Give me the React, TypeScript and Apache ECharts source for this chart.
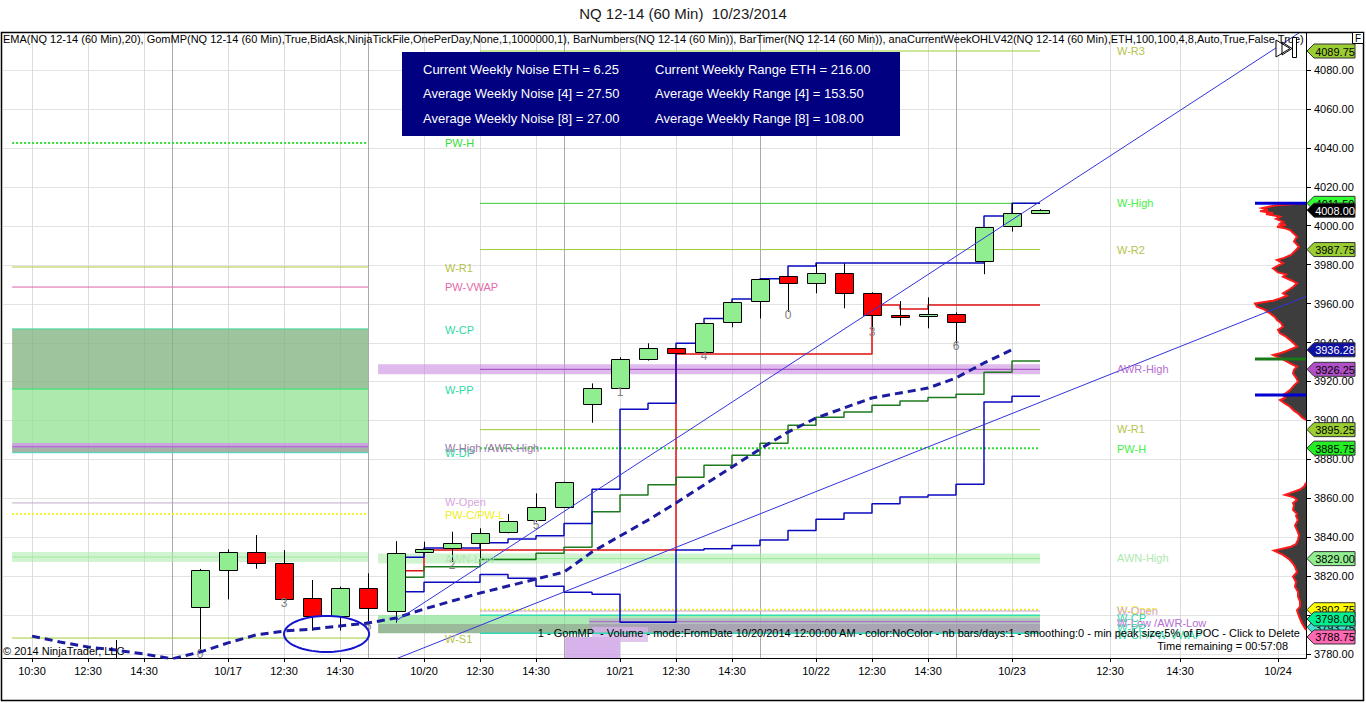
import React, { useEffect, useRef } from "react";
import * as echarts from "echarts";

const FONT = "'Liberation Sans', Arial, Helvetica, sans-serif";

// ---------------- axes ----------------
const xTickSlots = [-6, -4, -2, 1, 3, 5, 8, 10, 12, 15, 17, 19, 22, 24, 26, 29, 32.5, 35, 38.5];
const xTickLabels = ["10:30", "12:30", "14:30", "10/17", "12:30", "14:30", "10/20", "12:30", "14:30", "10/21", "12:30", "14:30", "10/22", "12:30", "14:30", "10/23", "12:30", "14:30", "10/24"];
const sessionBreakSlots = [-1, 6, 13, 20, 27];
const priceTicks = [3780, 3800, 3820, 3840, 3860, 3880, 3900, 3920, 3940, 3960, 3980, 4000, 4020, 4040, 4060, 4080];

// ---------------- 60 min bars (slot index = bar position) ----------------
const barSlots = [-6, -5, -4, -3, -2, -1, 0, 1, 2, 3, 4, 5, 6, 7, 8, 9, 10, 11, 12, 13, 14, 15, 16, 17, 18, 19, 20, 21, 22, 23, 24, 25, 26, 27, 28, 29, 30];
const barOpen = [3774, 3770, 3766, 3768, 3771, 3767, 3804.0, 3823.0, 3832.4, 3826.6, 3808.6, 3799.7, 3813.7, 3802.2, 3832.3, 3834.3, 3836.9, 3842.9, 3848.8, 3855.3, 3908.4, 3916.4, 3931.4, 3937.0, 3935.0, 3950.3, 3961.2, 3974.0, 3970.4, 3975.5, 3965.3, 3954.0, 3953.4, 3954.5, 3981.9, 3999.9, 4006.3];
const barClose = [3770, 3766, 3768, 3771, 3767, 3765, 3823.2, 3832.4, 3826.6, 3808.1, 3799.7, 3813.7, 3803.5, 3831.7, 3833.8, 3836.9, 3842.3, 3848.5, 3855.3, 3868.2, 3916.4, 3931.4, 3937.0, 3934.5, 3949.9, 3960.8, 3972.6, 3970.4, 3975.5, 3965.3, 3954.0, 3953.0, 3954.5, 3950.4, 3999.2, 4006.4, 4008.0];
const barLow = [3765, 3760, 3762, 3764, 3760, 3755, 3781.5, 3808.1, 3823.8, 3807.8, 3792.0, 3792.0, 3795.8, 3796.1, 3831.5, 3827.3, 3829.1, 3842.0, 3847.8, 3855.0, 3898.8, 3916.2, 3930.7, 3934.2, 3934.8, 3947.8, 3952.4, 3955.8, 3965.3, 3957.6, 3947.1, 3948.7, 3947.3, 3939.6, 3975.1, 3997.0, 4006.0];
const barHigh = [3776.5, 3775, 3774, 3787.2, 3775, 3772, 3823.7, 3833.8, 3841.1, 3833.4, 3818.0, 3814.6, 3821.4, 3838.0, 3837.7, 3842.8, 3844.6, 3851.9, 3862.5, 3868.5, 3919.0, 3932.4, 3939.6, 3937.3, 3950.2, 3961.0, 3972.8, 3974.2, 3980.7, 3980.7, 3965.8, 3961.3, 3963.2, 3955.5, 3999.3, 4011.5, 4008.5];

// ---------------- EMA(20) ----------------
const emaSlots = [-6, -5, -4, -3, -2, -1, 0, 1, 2, 3, 4, 5, 6, 7, 8, 9, 10, 11, 12, 13, 14, 15, 16, 17, 18, 19, 20, 21, 22, 23, 24, 25, 26, 27, 28, 29];
const emaValues = [3789.2, 3786.2, 3783.6, 3782.0, 3780.0, 3777.5, 3781.0, 3785.7, 3789.8, 3791.8, 3792.8, 3794.4, 3795.9, 3798.5, 3803.1, 3807.2, 3811.3, 3814.9, 3818.5, 3822.1, 3832.4, 3840.6, 3848.8, 3857.6, 3866.8, 3876.1, 3885.3, 3894.0, 3901.2, 3906.4, 3911.5, 3914.1, 3916.6, 3921.8, 3929.5, 3936.28];

// ---------------- weekly step plots (slots 7..30) ----------------
const stepSlots = [7, 8, 9, 10, 11, 12, 13, 14, 15, 16, 17, 18, 19, 20, 21, 22, 23, 24, 25, 26, 27, 28, 29, 30];
const stepUpperBlue = [3829.7, 3834.5, 3834.5, 3837.2, 3839.1, 3840.8, 3847.1, 3864.6, 3905.7, 3908.8, 3939.6, 3952.4, 3962.4, 3972.8, 3979.3, 3980.9, 3980.9, 3980.9, 3980.9, 3980.9, 3980.9, 4005.0, 4011.5, 4011.5];
const stepGreen = [3819.4, 3824.8, 3824.8, 3828.6, 3828.6, 3831.7, 3834.8, 3853.1, 3861.7, 3867.0, 3870.8, 3876.9, 3882.1, 3888.2, 3897.5, 3901.6, 3904.3, 3907.8, 3910.0, 3911.7, 3913.4, 3924.7, 3930.5, 3930.5];
const stepLowerBlue = [3812.0, 3816.8, 3816.8, 3820.9, 3818.9, 3814.8, 3811.7, 3810.7, 3796.3, 3796.3, 3833.4, 3834.1, 3835.8, 3838.6, 3843.5, 3849.2, 3852.4, 3857.2, 3860.7, 3861.7, 3867.2, 3909.4, 3912.4, 3912.4];
const stepRed = [3822.8, 3833.4, 3833.4, 3833.4, 3833.4, 3833.4, 3833.4, 3833.4, 3833.4, 3833.4, 3934.1, 3934.1, 3934.1, 3934.1, 3934.1, 3934.1, 3934.1, 3959.3, 3957.2, 3959.3, 3959.3, 3959.3, 3959.3, 3959.3];

// ---------------- bar numbers ----------------
const barNumberSlots = [0, 3, 6, 9, 12, 15, 18, 21, 24, 27];
const barNumberTexts = ["0", "3", "6", "2", "5", "1", "4", "0", "3", "6"];

// ---------------- drawn trend lines & ellipse ----------------
const trendLineUpper = [[7, 3797.0], [39.3, 4099.5]];
const trendLineLower = [[7, 3777.5], [39.5, 3963.7]];
const ellipseNote = [4.52, 3790.3, 1.52, 9.25]; // center slot, center price, radius slots, radius price

// ---------------- weekly levels ----------------
const priorWeekLevelNames = ["PW-H", "W-R1", "PW-VWAP", "W-Open", "PW-C/PW-L", "W-S1", "AWN-Low"];
const priorWeekLevelPrices = [4042.5, 3978.8, 3968.5, 3857.6, 3851.9, 3788.2, 3829.8];
const currentWeekLevelNames = ["W-R3", "W-High", "W-R2", "AWR-High", "W-R1", "PW-H", "AWN-High", "PW-C/PW-L", "W-Open", "W-CP", "W-PP"];
const currentWeekLevelPrices = [4089.75, 4011.5, 3987.75, 3926.25, 3895.25, 3885.75, 3829.0, 3802.75, 3802.1, 3799.9, 3790.6];

// zones: [fromSlot, toSlot, topPrice, bottomPrice]
const zoneRects = [
  [-6.71, 6.0, 3947.0, 3916.1],
  [-6.71, 6.0, 3916.1, 3888.4],
  [-6.71, 6.0, 3888.4, 3886.1],
  [-6.71, 6.0, 3886.1, 3883.4],
  [-6.71, 6.0, 3832.4, 3827.3],
  [6.36, 30, 3928.8, 3923.7],
  [6.36, 30, 3831.6, 3826.5],
  [6.36, 30, 3800.0, 3795.4],
  [6.36, 30, 3795.4, 3790.6],
  [13.9, 30, 3798.4, 3790.6],
  [13.04, 15, 3788.7, 3777.0],
  [14, 16, 3793.9, 3786.2],
];

// level labels
const midLabelTexts = ["PW-H", "W-R1", "PW-VWAP", "W-CP", "W-PP", "W-DP", "W-High /AWR-High", "W-Open", "PW-C/PW-L", "AWN-Low", "W-S1"];
const midLabelPrices = [4042.3, 3978.3, 3968.6, 3946.5, 3915.6, 3883.0, 3885.6, 3858.1, 3851.4, 3829.0, 3787.7];
const rightLabelTexts = ["W-R3", "W-High", "W-R2", "AWR-High", "W-R1", "PW-H", "AWN-High", "W-Open", "W-Open", "W-CP", "W-Low /AWR-Low", "W-PP", "W-CP/PW-VWAP"];
const rightLabelPrices = [4089.5, 4011.5, 3987.5, 3926.5, 3895.5, 3885.3, 3829.3, 3802.8, 3802.3, 3798.4, 3795.8, 3793.3, 3790.0];

// price tags on the axis
const tagPrices = [4089.75, 3987.75, 4011.5, 4008.0, 3936.28, 3926.25, 3895.25, 3885.75, 3829.0, 3802.75, 3793.75, 3798.0, 3788.75];

// volume profile (GomMP) : price levels and volume
const profileUpperPrices = [4011.5, 4010.5, 4009, 4008, 4007.5, 4006.5, 4006, 4004.6, 4003.5, 4002.1, 4001, 4000.5, 3999.5, 3998.5, 3997.8, 3994.4, 3992, 3989.2, 3987, 3985, 3983.5, 3982.4, 3980.7, 3979.5, 3978.1, 3976, 3975, 3973.8, 3972, 3970.4, 3968.5, 3967.5, 3965.3, 3964, 3962.7, 3961.5, 3961, 3960, 3958.4, 3957, 3955, 3953, 3951.6, 3950, 3948.1, 3946.5, 3944.7, 3943, 3941.3, 3939.5, 3937.9, 3935.5, 3934.5, 3933.6, 3932.5, 3931.4, 3929, 3927.6, 3926, 3924.2, 3922, 3919.9, 3918, 3915.6, 3914, 3913, 3911.5, 3910.5, 3909, 3907, 3905, 3903.6, 3901.5, 3900.2];
const profileUpperVolumes = [0, 300, 440, 380, 460, 330, 400, 260, 300, 230, 260, 200, 290, 200, 160, 90, 120, 70, 110, 150, 220, 290, 230, 280, 330, 280, 200, 230, 150, 90, 130, 160, 230, 190, 260, 330, 400, 510, 490, 420, 360, 310, 290, 250, 230, 280, 260, 200, 160, 120, 90, 200, 260, 330, 280, 230, 150, 90, 120, 130, 100, 80, 120, 160, 200, 230, 210, 260, 220, 160, 120, 80, 40, 0];
const profileLowerPrices = [3868, 3866, 3864.5, 3863, 3861.7, 3860.5, 3859.1, 3857.5, 3856.5, 3854, 3852, 3851, 3848.8, 3846, 3843.7, 3841, 3838.6, 3836.5, 3835.1, 3833.1, 3830.9, 3829.5, 3828.3, 3826.5, 3824.9, 3822, 3819.7, 3817, 3814.6, 3812, 3809.4, 3807, 3804.3, 3802.5, 3800.9, 3798, 3795.8, 3792.3];
const profileLowerVolumes = [0, 20, 60, 140, 210, 120, 90, 130, 120, 130, 90, 100, 80, 110, 90, 70, 80, 100, 150, 320, 230, 190, 160, 130, 110, 90, 130, 100, 110, 80, 80, 60, 60, 90, 80, 60, 40, 0];
const valueAreaPrices = [4011.5, 3931.5, 3913.0];
const valueAreaVolume = 510;

// info panel
const noiseRows = ["Current Weekly Noise ETH = 6.25", "Average Weekly Noise [4] = 27.50", "Average Weekly Noise [8] = 27.00"];
const rangeRows = ["Current Weekly Range ETH = 216.00", "Average Weekly Range [4] = 153.50", "Average Weekly Range [8] = 108.00"];

// ---------------- layout constants ----------------
const X_MIN = -7.036;
const X_MAX = 39.5;
const Y_MIN = 3777.95;
const Y_MAX = 4099.0;
const VOL_MAX = 13030;

const OLIVE = "#b4c34c";
const GREEN = "#33dd33";
const TEAL = "#2fd9a6";
const LAV = "#d9a6dc";
const YEL = "#eeee22";
const LGREEN = "#aee9ae";
const PURPLE = "#b56fd0";

const priorLevelStyles: any = {
  "PW-H": { color: "#33dd33", width: 2, type: [2, 2] },
  "W-R1": { color: "#b8c440", width: 1, type: "solid" },
  "PW-VWAP": { color: "#e060a8", width: 1, type: "solid" },
  "W-Open": { color: "#c0a8c8", width: 1, type: "solid" },
  "PW-C/PW-L": { color: "#f2f22a", width: 2, type: [2, 2] },
  "W-S1": { color: "#9acd32", width: 1, type: "solid" },
  "AWN-Low": { color: "#9ee89e", width: 1, type: "solid" },
};
const currentLevelStyles: any = {
  "W-R3": { color: "#9acd32", width: 1, type: "solid" },
  "W-High": { color: "#32cd32", width: 1, type: "solid" },
  "W-R2": { color: "#9acd32", width: 1, type: "solid" },
  "AWR-High": { color: "#a040c0", width: 1, type: "solid" },
  "W-R1": { color: "#9acd32", width: 1, type: "solid" },
  "PW-H": { color: "#33dd33", width: 2, type: [2, 2] },
  "AWN-High": { color: "#90ee90", width: 1, type: "solid" },
  "PW-C/PW-L": { color: "#f0f020", width: 2, type: [2, 2] },
  "W-Open": { color: "#d0a0d8", width: 1, type: "solid" },
  "W-CP": { color: "#30e0b0", width: 1.5, type: "solid" },
  "W-PP": { color: "#30d8b8", width: 1.5, type: "solid" },
};
const zoneColors = [
  "rgba(130,180,130,0.78)",
  "rgba(150,225,150,0.78)",
  "rgba(190,150,215,0.85)",
  "rgba(150,165,150,0.85)",
  "rgba(170,235,170,0.55)",
  "rgba(200,140,225,0.6)",
  "rgba(170,235,170,0.55)",
  "rgba(150,230,160,0.8)",
  "rgba(135,175,135,0.85)",
  "rgba(190,140,210,0.45)",
  "rgba(205,160,230,0.8)",
  "rgba(215,180,232,0.75)",
];
const midLabelColors = [GREEN, OLIVE, "#e46aa8", TEAL, TEAL, TEAL, "#9a78a8", LAV, YEL, LGREEN, OLIVE];
const rightLabelColors = [OLIVE, "#44ee44", OLIVE, PURPLE, OLIVE, "#44ee44", LGREEN, YEL, LAV, TEAL, PURPLE, TEAL, TEAL];
const tagFills = ["#9acd32", "#9acd32", "#32ff32", "#000000", "#1010a0", "#b050c8", "#9acd32", "#22ee22", "#90ee90", "#ffff00", "#40e0d0", "#00f090", "#ff69b4"];
const tagTextColors = ["#000", "#000", "#000", "#fff", "#fff", "#000", "#000", "#000", "#000", "#000", "#000", "#000", "#000"];
const valueAreaColors = ["#0000d0", "#1a7a1a", "#0000d0"];

function txt(text: string, fill: string, size: number, align = "left", vAlign = "middle") {
  return {
    text,
    fill,
    font: `${size}px ${FONT}`,
    align,
    verticalAlign: vAlign,
    textAlign: align,
    textVerticalAlign: vAlign,
  };
}

function segment(x1: number, x2: number, price: number, st: any, z: number) {
  return {
    type: "line",
    silent: true,
    z,
    symbol: "none",
    showSymbol: false,
    data: [[x1, price], [x2, price]],
    lineStyle: { color: st.color, width: st.width, type: st.type, cap: "butt" },
  };
}

function labelSeries(slot: number, texts: string[], prices: number[], colors: string[], z: number) {
  return {
    type: "custom",
    silent: true,
    clip: false,
    z,
    data: prices.map((p) => [slot, p]),
    renderItem: (params: any, api: any) => {
      const i = params.dataIndex;
      const pt = api.coord([api.value(0), api.value(1)]);
      return { type: "text", x: pt[0], y: pt[1], style: txt(texts[i], colors[i], 11) };
    },
  };
}

function stepSeries(values: number[], color: string, z: number) {
  return {
    type: "line",
    silent: true,
    z,
    step: "end",
    symbol: "none",
    showSymbol: false,
    data: stepSlots.map((s, i) => [s, values[i]]),
    lineStyle: { color, width: 1.5 },
  };
}

function buildOption(): any {
  const series: any[] = [];

  // horizontal grid lines
  series.push({
    type: "custom",
    silent: true,
    z: 0,
    data: priceTicks.map((p) => [X_MIN, p]),
    renderItem: (params: any, api: any) => {
      const cs = params.coordSys;
      const y = Math.round(api.coord([X_MIN, api.value(1)])[1]) + 0.5;
      return { type: "line", shape: { x1: cs.x, y1: y, x2: cs.x + cs.width, y2: y }, style: { stroke: "#e3e3e3", lineWidth: 1 } };
    },
  });
  // vertical grid lines (label slots light, session breaks dark)
  const vSlots = xTickSlots.concat(sessionBreakSlots);
  series.push({
    type: "custom",
    silent: true,
    z: 0,
    data: vSlots.map((s) => [s, Y_MIN]),
    renderItem: (params: any, api: any) => {
      const cs = params.coordSys;
      const x = Math.round(api.coord([api.value(0), Y_MIN])[0]) + 0.5;
      const dark = params.dataIndex >= xTickSlots.length;
      return { type: "line", shape: { x1: x, y1: cs.y, x2: x, y2: cs.y + cs.height }, style: { stroke: dark ? "#aaaaaa" : "#dcdcdc", lineWidth: 1 } };
    },
  });

  // zones
  series.push({
    type: "custom",
    silent: true,
    clip: true,
    z: 1,
    data: zoneRects,
    renderItem: (params: any, api: any) => {
      const a = api.coord([api.value(0), api.value(2)]);
      const b = api.coord([api.value(1), api.value(3)]);
      return { type: "rect", shape: { x: a[0], y: a[1], width: b[0] - a[0], height: b[1] - a[1] }, style: { fill: zoneColors[params.dataIndex] } };
    },
  });

  // zone edge lines (prior week)
  series.push(segment(-6.71, 6.0, 3947.0, { color: "#40d8a0", width: 1, type: "solid" }, 2));
  series.push(segment(-6.71, 6.0, 3916.1, { color: "#30e070", width: 1, type: "solid" }, 2));
  series.push(segment(-6.71, 6.0, 3886.4, { color: "#a050c0", width: 1, type: "solid" }, 2));
  series.push(segment(-6.71, 6.0, 3883.4, { color: "#40d8c0", width: 1, type: "solid" }, 2));
  series.push(segment(13.9, 30, 3796.6, { color: "#a060c0", width: 1, type: "solid" }, 2));
  series.push(segment(14, 14.01, 3777.0, { color: "#b080c8", width: 1, type: "solid" }, 2));

  // prior week levels
  priorWeekLevelNames.forEach((n, i) => series.push(segment(-6.71, 6.0, priorWeekLevelPrices[i], priorLevelStyles[n], 2)));
  // current week levels
  currentWeekLevelNames.forEach((n, i) => series.push(segment(10, 30, currentWeekLevelPrices[i], currentLevelStyles[n], 2)));

  // profile (GomMP) on right edge
  series.push({
    type: "custom",
    silent: true,
    clip: false,
    xAxisIndex: 1,
    z: 3,
    data: [[0, 3900]],
    renderItem: (params: any, api: any) => {
      if (params.dataIndex !== 0) return null;
      const children: any[] = [];
      const parts: any[] = [
        [profileUpperPrices, profileUpperVolumes],
        [profileLowerPrices, profileLowerVolumes],
      ];
      parts.forEach(([ps, vs]) => {
        const edge = ps.map((p: number, i: number) => api.coord([vs[i], p]));
        const base = [api.coord([0, ps[ps.length - 1]]), api.coord([0, ps[0]])];
        children.push({ type: "polygon", shape: { points: edge.concat(base) }, style: { fill: "#3d3d3d" } });
        children.push({ type: "polyline", shape: { points: edge }, style: { stroke: "#ff1a1a", lineWidth: 2, fill: null } });
      });
      valueAreaPrices.forEach((p, i) => {
        const a = api.coord([0, p]);
        const b = api.coord([valueAreaVolume, p]);
        children.push({ type: "line", shape: { x1: b[0], y1: a[1], x2: a[0], y2: a[1] }, style: { stroke: valueAreaColors[i], lineWidth: 3 } });
      });
      return { type: "group", children };
    },
  });

  // step lines
  series.push(stepSeries(stepRed, "#e01010", 4));
  series.push(stepSeries(stepLowerBlue, "#0a0ac0", 4));
  series.push(stepSeries(stepGreen, "#1e7a1e", 4));
  series.push(stepSeries(stepUpperBlue, "#0a0ac0", 4));

  // candles
  series.push({
    type: "custom",
    silent: true,
    clip: true,
    z: 5,
    data: barSlots.map((s, i) => [s, barOpen[i], barClose[i], barLow[i], barHigh[i]]),
    renderItem: (params: any, api: any) => {
      const s = api.value(0);
      const o = api.value(1);
      const c = api.value(2);
      const pO = api.coord([s, o]);
      const pC = api.coord([s, c]);
      const pL = api.coord([s, api.value(3)]);
      const pH = api.coord([s, api.value(4)]);
      const w = Math.round(api.size([1, 0])[0] * 0.64);
      const x = Math.round(pO[0]) + 0.5;
      const top = Math.round(Math.min(pO[1], pC[1])) + 0.5;
      const bot = Math.round(Math.max(pO[1], pC[1])) + 0.5;
      const up = c >= o;
      return {
        type: "group",
        children: [
          { type: "line", shape: { x1: x, y1: pH[1], x2: x, y2: pL[1] }, style: { stroke: "#000", lineWidth: 1 } },
          { type: "rect", shape: { x: x - w / 2, y: top, width: w, height: Math.max(bot - top, 2) }, style: { fill: up ? "#90ee90" : "#ff0000", stroke: "#000", lineWidth: 1 } },
        ],
      };
    },
  });

  // bar numbers
  series.push({
    type: "custom",
    silent: true,
    clip: false,
    z: 5,
    data: barNumberSlots.map((s) => [s, barLow[barSlots.indexOf(s)]]),
    renderItem: (params: any, api: any) => {
      const pt = api.coord([api.value(0), api.value(1)]);
      return { type: "text", x: pt[0], y: pt[1] + 3, style: txt(barNumberTexts[params.dataIndex], "#808080", 12, "center", "middle") };
    },
  });

  // EMA
  series.push({
    type: "line",
    silent: true,
    z: 6,
    symbol: "none",
    showSymbol: false,
    data: emaSlots.map((s, i) => [s, emaValues[i]]),
    lineStyle: { color: "#1c1ca0", width: 3, type: [8, 5] },
  });

  // trend lines
  [trendLineUpper, trendLineLower].forEach((tl) =>
    series.push({
      type: "line",
      silent: true,
      z: 7,
      symbol: "none",
      showSymbol: false,
      data: tl,
      lineStyle: { color: "#3333dd", width: 1 },
    })
  );

  // ellipse annotation
  series.push({
    type: "custom",
    silent: true,
    clip: true,
    z: 7,
    data: [ellipseNote],
    renderItem: (params: any, api: any) => {
      const pts: number[][] = [];
      for (let k = 0; k < 72; k++) {
        const t = (k / 72) * Math.PI * 2;
        pts.push(api.coord([api.value(0) + api.value(2) * Math.cos(t), api.value(1) + api.value(3) * Math.sin(t)]));
      }
      return { type: "polygon", shape: { points: pts }, style: { fill: null, stroke: "#1515d0", lineWidth: 2 } };
    },
  });

  // labels
  series.push(labelSeries(8.75, midLabelTexts, midLabelPrices, midLabelColors, 8));
  series.push(labelSeries(32.75, rightLabelTexts, rightLabelPrices, rightLabelColors, 8));

  // axis price tags
  series.push({
    type: "custom",
    silent: true,
    clip: false,
    z: 20,
    data: tagPrices.map((p) => [X_MAX, p]),
    renderItem: (params: any, api: any) => {
      const i = params.dataIndex;
      const pt = api.coord([X_MAX, api.value(1)]);
      const x0 = pt[0] + 1;
      const y = pt[1];
      return {
        type: "group",
        children: [
          {
            type: "polygon",
            shape: { points: [[x0, y], [x0 + 7, y - 7], [x0 + 48, y - 7], [x0 + 48, y + 7], [x0 + 7, y + 7]] },
            style: { fill: tagFills[i], stroke: "#333", lineWidth: 1 },
          },
          { type: "text", x: x0 + 28, y: y + 0.5, style: txt(api.value(1).toFixed(2), tagTextColors[i], 11, "center", "middle") },
        ],
      };
    },
  });

  const indicatorText =
    "EMA(NQ 12-14 (60 Min),20), GomMP(NQ 12-14 (60 Min),True,BidAsk,NinjaTickFile,OnePerDay,None,1,1000000,1), BarNumbers(NQ 12-14 (60 Min)), BarTimer(NQ 12-14 (60 Min)), anaCurrentWeekOHLV42(NQ 12-14 (60 Min),ETH,100,100,4,8,Auto,True,False,True)";

  const graphic: any[] = [
    { type: "text", x: 683, y: 13, silent: true, style: txt("NQ 12-14 (60 Min)  10/23/2014", "#1a1a1a", 15, "center", "middle") },
    {
      type: "text",
      x: 3,
      y: 39,
      silent: true,
      z: 50,
      style: Object.assign(txt(indicatorText, "#000", 11), { width: 1302, overflow: "truncate", ellipsis: "" }),
    },
    { type: "rect", silent: true, z: 50, shape: { x: 402, y: 52, width: 498, height: 84 }, style: { fill: "#000080" } },
    ...noiseRows.map((t, i) => ({ type: "text", silent: true, z: 51, x: 423, y: 69 + i * 24.5, style: txt(t, "#ffffff", 13) })),
    ...rangeRows.map((t, i) => ({ type: "text", silent: true, z: 51, x: 655, y: 69 + i * 24.5, style: txt(t, "#ffffff", 13) })),
    { type: "text", silent: true, z: 50, x: 3, y: 651, style: txt("\u00a9 2014 NinjaTrader, LLC", "#000", 11) },
    {
      type: "text",
      silent: true,
      z: 50,
      x: 1300,
      y: 633,
      style: txt("1 - GomMP  - Volume - mode:FromDate 10/20/2014 12:00:00 AM - color:NoColor - nb bars/days:1 - smoothing:0 - min peak size:5% of POC - Click to Delete", "#000", 11, "right"),
    },
    { type: "text", silent: true, z: 50, x: 1288, y: 646, style: txt("Time remaining = 00:57:08", "#000", 11, "right") },
    { type: "rect", silent: true, z: 60, shape: { x: 1.5, y: 32.5, width: 1362, height: 668 }, style: { fill: null, stroke: "#000", lineWidth: 1.5 } },
    { type: "rect", silent: true, z: 61, shape: { x: 1352.5, y: 32.5, width: 11, height: 11 }, style: { fill: "#fff", stroke: "#000", lineWidth: 1 } },
    { type: "text", silent: true, z: 62, x: 1358, y: 38.5, style: txt("F", "#000", 10, "center", "middle") },
    { type: "polygon", silent: true, z: 55, shape: { points: [[1276, 40], [1290, 48.5], [1276, 57]] }, style: { fill: "#fff", stroke: "#000", lineWidth: 1 } },
    { type: "polygon", silent: true, z: 55, shape: { points: [[1282, 42], [1292, 48.5], [1282, 55]] }, style: { fill: null, stroke: "#000", lineWidth: 1 } },
    { type: "rect", silent: true, z: 55, shape: { x: 1292.5, y: 37.5, width: 4, height: 20 }, style: { fill: "#fff", stroke: "#000", lineWidth: 1 } },
  ];

  return {
    animation: false,
    backgroundColor: "#ffffff",
    grid: { left: 3, right: 60, top: 33, bottom: 45, containLabel: false },
    xAxis: [
      {
        type: "value",
        min: X_MIN,
        max: X_MAX,
        position: "bottom",
        axisLine: { show: true, onZero: false, lineStyle: { color: "#000", width: 1 } },
        axisTick: { show: true, customValues: xTickSlots, length: 4, lineStyle: { color: "#000" } },
        axisLabel: {
          customValues: xTickSlots,
          color: "#000",
          fontSize: 11,
          fontFamily: FONT,
          margin: 7,
          formatter: (v: number) => {
            const i = xTickSlots.findIndex((s) => Math.abs(s - v) < 1e-6);
            return i >= 0 ? xTickLabels[i] : "";
          },
        },
        splitLine: { show: false },
      },
      { type: "value", min: 0, max: VOL_MAX, inverse: true, show: false },
    ],
    yAxis: {
      type: "value",
      position: "right",
      min: Y_MIN,
      max: Y_MAX,
      axisLine: { show: true, onZero: false, lineStyle: { color: "#000", width: 1 } },
      axisTick: { show: true, customValues: priceTicks, length: 5, lineStyle: { color: "#000" } },
      axisLabel: {
        customValues: priceTicks,
        color: "#000",
        fontSize: 11,
        fontFamily: FONT,
        margin: 8,
        formatter: (v: number) => v.toFixed(2),
      },
      splitLine: { show: false },
    },
    series,
    graphic,
  };
}

export default function App() {
  const ref = useRef<HTMLDivElement>(null);
  useEffect(() => {
    document.body.style.margin = "0";
    const chart = echarts.init(ref.current as HTMLDivElement, null, { renderer: "svg" });
    chart.setOption(buildOption());
    return () => chart.dispose();
  }, []);
  return <div ref={ref} style={{ width: 1366, height: 703, background: "#fff" }} />;
}
